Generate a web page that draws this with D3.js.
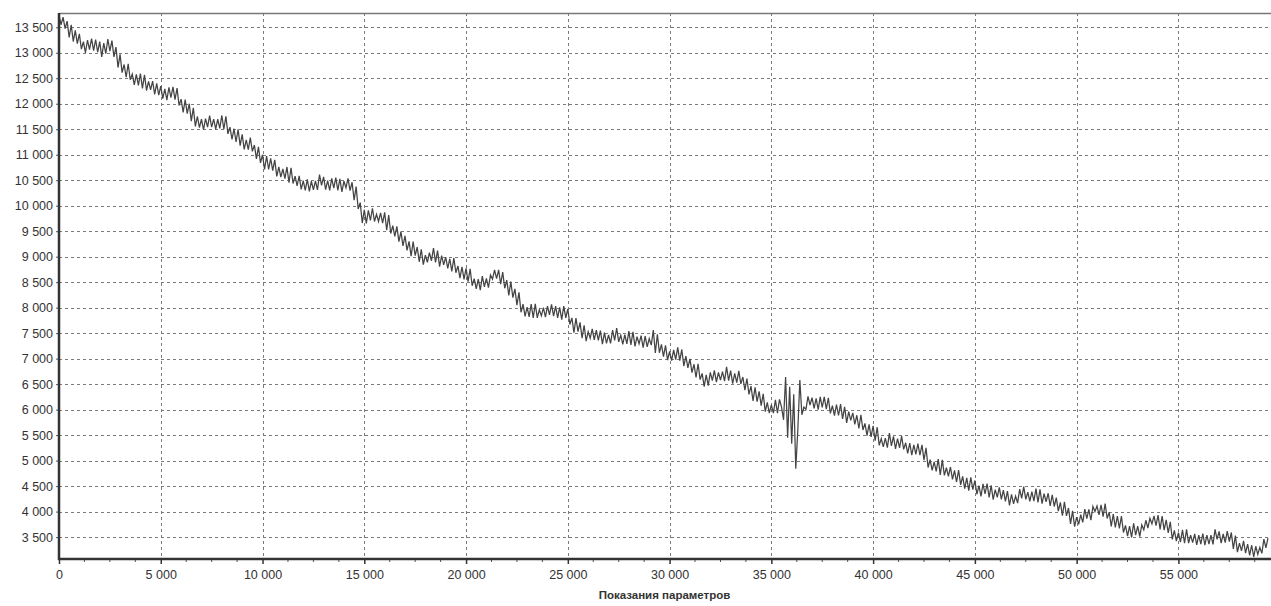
<!DOCTYPE html>
<html>
<head>
<meta charset="utf-8">
<script src="https://cdn.jsdelivr.net/npm/d3@7"></script>
<style>
  body { margin: 0; background: #fff; }
  svg text { font-family: "Liberation Sans", Arial, sans-serif; fill: #333; }
</style>
</head>
<body>
<svg id="chart" width="1271" height="606"></svg>
<script>
// readings, one every 100 samples, starting at 0
var sampleStep = 100;
var readings = [
  13740,13550,13700,13475,13620,13300,13550,13220,13440,13180,13370,13070,13220,13000,13250,13060,13280,13040,13260,13010,
  13220,12920,13190,12985,13270,13030,13240,12920,13110,12710,12970,12610,12770,12520,12785,12470,12580,12370,12575,12360,
  12590,12300,12565,12260,12440,12270,12445,12185,12400,12170,12345,12100,12290,12070,12320,12120,12330,12080,12305,11965,
  12090,11830,12080,11805,12000,11660,11920,11555,11750,11530,11700,11490,11710,11540,11765,11540,11700,11500,11700,11515,
  11770,11500,11755,11410,11540,11300,11510,11250,11500,11180,11400,11105,11290,11100,11335,11065,11190,10920,11155,10840,
  11000,10710,10975,10710,10930,10690,10900,10575,10760,10560,10720,10530,10760,10450,10745,10435,10580,10390,10585,10320,
  10490,10300,10515,10280,10480,10310,10485,10310,10610,10400,10565,10315,10490,10300,10535,10345,10550,10300,10525,10270,
  10480,10350,10535,10295,10460,10110,10375,9935,10060,9660,9920,9655,9910,9710,9950,9690,9830,9690,9860,9660,
  9870,9520,9815,9455,9610,9400,9595,9295,9490,9210,9410,9125,9300,9010,9295,9020,9190,8900,9145,8845,
  9030,8890,9080,8920,9170,8890,9120,8805,9020,8840,8990,8770,8960,8710,8975,8685,8820,8580,8800,8555,
  8770,8510,8760,8430,8570,8370,8560,8345,8620,8410,8575,8395,8640,8560,8740,8570,8740,8460,8700,8380,
  8540,8240,8510,8195,8370,8050,8300,7910,8070,7830,8010,7820,8070,7800,8075,7800,7960,7840,8000,7815,
  8030,7860,8065,7835,8030,7800,8005,7765,8030,7800,7975,7670,7800,7510,7795,7530,7710,7400,7655,7345,
  7530,7400,7585,7370,7560,7360,7550,7285,7510,7300,7465,7300,7560,7360,7600,7330,7460,7280,7470,7290,
  7540,7270,7525,7240,7430,7290,7450,7215,7440,7230,7395,7265,7560,7110,7475,7115,7280,7040,7260,6970,
  7140,6960,7170,6980,7220,6960,7180,6855,7050,6820,6995,6725,6890,6630,6900,6590,6710,6450,6680,6470,
  6730,6570,6770,6540,6730,6580,6745,6560,6840,6570,6765,6510,6710,6530,6760,6505,6640,6380,6610,6300,
  6460,6170,6435,6155,6360,6080,6310,5960,6140,5930,6095,5930,6190,5930,6200,6050,5800,6640,5450,6450,
  5330,6300,4840,5600,6580,5900,6050,6005,6260,6090,6235,6025,6220,6000,6250,6045,6250,6010,6230,5925,
  6080,5880,6100,5885,6110,5820,6055,5740,5960,5790,5935,5710,5890,5630,5900,5600,5730,5490,5710,5465,
  5680,5390,5655,5300,5430,5270,5440,5255,5540,5290,5475,5230,5430,5250,5480,5220,5350,5140,5345,5105,
  5310,5120,5335,5105,5310,5010,5250,4865,5020,4810,4975,4790,5030,4720,5015,4710,4860,4690,4875,4630,
  4810,4580,4815,4525,4690,4450,4660,4410,4670,4430,4610,4340,4510,4300,4545,4345,4550,4280,4515,4235,
  4430,4280,4475,4240,4420,4200,4400,4120,4340,4150,4305,4165,4440,4260,4490,4240,4380,4200,4390,4205,
  4450,4180,4435,4155,4350,4190,4360,4110,4330,4100,4275,4010,4180,3920,4190,3915,4070,3760,4015,3705,
  3890,3750,3940,3790,4050,3860,4045,3830,4100,4000,4110,3935,4130,3900,4155,3865,3990,3710,3950,3690,
  3910,3670,3910,3590,3730,3520,3715,3495,3770,3540,3715,3510,3740,3640,3830,3675,3870,3760,3915,3725,
  3930,3650,3910,3635,3840,3580,3800,3455,3630,3420,3585,3400,3640,3380,3650,3380,3540,3390,3565,3345,
  3540,3360,3570,3340,3540,3360,3540,3355,3650,3455,3610,3380,3565,3390,3615,3410,3590,3270,3530,3205,
  3380,3230,3425,3185,3360,3140,3340,3110,3320,3160,3300,3180,3460,3290,3480
];
var yTicks = [3500,4000,4500,5000,5500,6000,6500,7000,7500,8000,8500,9000,9500,10000,10500,11000,11500,12000,12500,13000,13500];
var xTicks = [0,5000,10000,15000,20000,25000,30000,35000,40000,45000,50000,55000];
var xMinorStep = 1250;
var xTitle = "Показания параметров";

var svg = d3.select("#chart");
var pLeft = 59, pTop = 13, pRight = 1270, pBottom = 559;

var x = d3.scaleLinear().domain([0, 59500]).range([pLeft, pRight]);
var y = d3.scaleLinear().domain([3070, 13780]).range([pBottom, pTop]);

var loc = d3.formatLocale({decimal: ".", thousands: " ", grouping: [3], currency: ["", ""]});
var fmt = loc.format(",d");

// grid
var g_grid = svg.append("g").attr("class", "grid");
g_grid.selectAll(".hg").data(yTicks).enter().append("line")
    .attr("class", "hg")
    .attr("x1", pLeft).attr("x2", pRight)
    .attr("y1", function(d){ return Math.round(y(d)) + 0.5; })
    .attr("y2", function(d){ return Math.round(y(d)) + 0.5; })
    .attr("stroke", "#7a7a7a").attr("stroke-dasharray", "3,3");
g_grid.selectAll(".vg").data(xTicks.slice(1)).enter().append("line")
    .attr("class", "vg")
    .attr("y1", pTop).attr("y2", pBottom)
    .attr("x1", function(d){ return Math.round(x(d)) + 0.5; })
    .attr("x2", function(d){ return Math.round(x(d)) + 0.5; })
    .attr("stroke", "#7a7a7a").attr("stroke-dasharray", "3,3");

// top border
svg.append("line").attr("x1", pLeft).attr("x2", pRight + 1)
    .attr("y1", pTop + 0.5).attr("y2", pTop + 0.5)
    .attr("stroke", "#777").attr("stroke-width", 1.5);

// the series
var line = d3.line()
    .x(function(d, i){ return x(i * sampleStep); })
    .y(function(d){ return y(d); });
svg.append("path").datum(readings)
    .attr("d", line)
    .attr("fill", "none")
    .attr("stroke", "#444")
    .attr("stroke-width", 1.25);

// axes
var yAxis = d3.axisLeft(y).tickValues(yTicks).tickFormat(fmt).tickSize(3).tickPadding(3);
var g_y = svg.append("g").attr("transform", "translate(" + pLeft + ",0)").call(yAxis);
g_y.select(".domain").remove();
g_y.selectAll("text").style("font-size", "12.5px");
g_y.selectAll(".tick line").attr("stroke", "#555");

var xAxis = d3.axisBottom(x).tickValues(xTicks).tickFormat(fmt).tickSize(5).tickPadding(6);
var g_x = svg.append("g").attr("transform", "translate(0," + pBottom + ")").call(xAxis);
g_x.select(".domain").remove();
g_x.selectAll("text").style("font-size", "12.5px");
g_x.selectAll(".tick line").attr("stroke", "#333").attr("stroke-width", 1.5);

var minor = d3.range(0, 59500, xMinorStep).filter(function(d){ return d % 5000 != 0; });
g_x.selectAll(".minor").data(minor).enter().append("line")
    .attr("class", "minor")
    .attr("x1", function(d){ return x(d); }).attr("x2", function(d){ return x(d); })
    .attr("y1", 0).attr("y2", 3)
    .attr("stroke", "#555");

svg.append("line").attr("x1", pLeft).attr("x2", pLeft)
    .attr("y1", pTop).attr("y2", pBottom + 1)
    .attr("stroke", "#333").attr("stroke-width", 2.5);
svg.append("line").attr("x1", pLeft - 1).attr("x2", pRight + 1)
    .attr("y1", pBottom).attr("y2", pBottom)
    .attr("stroke", "#333").attr("stroke-width", 2.5);

svg.append("text")
    .attr("x", (pLeft + pRight) / 2).attr("y", 599)
    .attr("text-anchor", "middle")
    .style("font-size", "11.5px").style("font-weight", "bold")
    .text(xTitle);
</script>
</body>
</html>
